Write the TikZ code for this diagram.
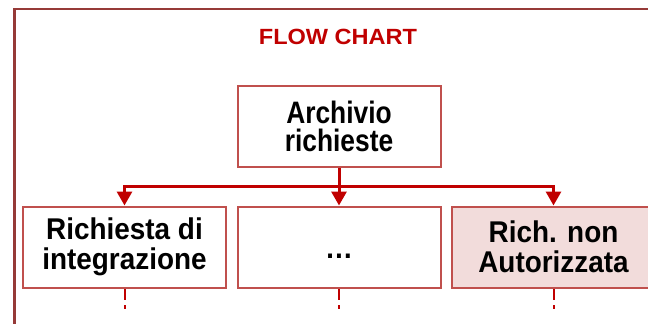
\documentclass[tikz,border=0pt]{standalone}
\usepackage{fontspec}
\setmainfont{Liberation Sans}
\newfontfamily\fcnarrow[FakeStretch=0.85]{Liberation Sans}
\newfontfamily\fcmedium[FakeStretch=0.93]{Liberation Sans}
\newfontfamily\fcwide[FakeStretch=1.07]{Liberation Sans}
\usepackage{tikz}
\usetikzlibrary{arrows.meta,positioning}
\definecolor{fcred}{RGB}{192,0,0}
\definecolor{fcborder}{RGB}{192,80,77}
\definecolor{fcdark}{RGB}{150,58,56}
\definecolor{fcpink}{RGB}{242,220,219}
\tikzset{
  fcbox/.style={draw=fcborder, line width=2pt, fill=white, align=center, minimum width=203pt, minimum height=81.5pt, inner sep=2pt, font=\fcmedium\bfseries\fontsize{30}{30}\selectfont},
  fcboxpink/.style={fcbox, fill=fcpink},
  fcarr/.style={-{Triangle[length=14pt,width=15pt]}, line width=3pt, draw=fcred},
  fcstub/.style={line width=2pt, draw=fcred, dash pattern=on 11pt off 5pt},
  fcframe/.style={line width=2.5pt, draw=fcdark},
  fctitle/.style={text=fcred, font=\fcwide\bfseries\fontsize{22}{24}\selectfont}
}
\begin{document}
\begin{tikzpicture}[x=1pt, y=-1pt, node distance=37.5pt and 9.5pt]
  \useasboundingbox (0,0) rectangle (648,324);
  \clip (0,0) rectangle (648,324);
  \draw[fcframe] (14.5,8.75) rectangle (700,400);
  \node[fctitle] (title) at (338,37) {FLOW CHART};
  \node[fcbox, minimum height=81pt, font=\fcnarrow\bfseries\fontsize{31}{28}\selectfont] (archivio) at (339,126.5) {Archivio\\richieste};
  \node[fcbox, below=of archivio, text height=22pt, text depth=0pt] (dots) {…};
  \node[fcbox, left=of dots] (integ) {Richiesta di\\integrazione};
  \node[fcboxpink, right=of dots] (autor) {Rich. non\\Autorizzata};
  % connectors from the archive
  \draw[fcarr] (archivio.south) -- ++(0,18.75) -| (integ.north);
  \draw[fcarr] (archivio.south) -- ++(0,18.75) -| (autor.north);
  \draw[fcarr] (archivio.south) -- (dots.north);
  % dashed continuations
  \draw[fcstub] (integ.south) -- ++(0,20);
  \draw[fcstub] (dots.south) -- ++(0,20);
  \draw[fcstub] (autor.south) -- ++(0,20);
\end{tikzpicture}
\end{document}
